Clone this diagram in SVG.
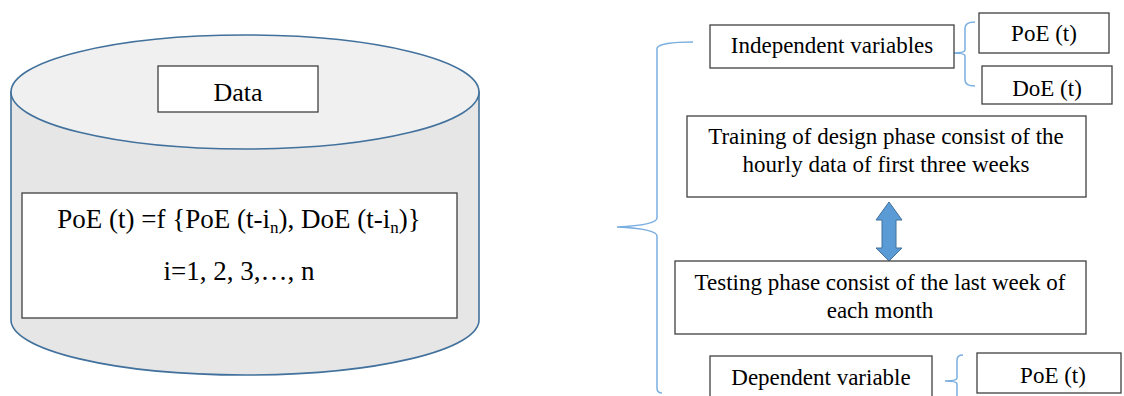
<svg xmlns="http://www.w3.org/2000/svg" width="1124" height="396" viewBox="0 0 1124 396">
<style>
  .t { font-family: "Liberation Serif", "Times New Roman", serif; fill: #000; text-anchor: middle; }
  .box { fill: #fff; stroke: #404040; stroke-width: 1.3; }
  .brace { fill: none; stroke: #7aaee0; stroke-width: 1.5; }
  .cyl { stroke: #41719c; stroke-width: 1.6; }
</style>
<rect width="1124" height="396" fill="#fff"/>
<g id="cylinder">
  <path class="cyl" d="M11,92 L11,320 A234,55 0 0 0 479,320 L479,92 Z" fill="#e6e6e6"/>
  <ellipse class="cyl" cx="245" cy="92" rx="234" ry="57" fill="#f0f0f0"/>
</g>
<g id="data">
  <rect class="box" x="158" y="66" width="160" height="46"/>
  <text class="t" x="238" y="101" font-size="26">Data</text>
</g>
<g id="formula">
  <rect class="box" x="22" y="193" width="435" height="125"/>
  <text class="t" x="239" y="228" font-size="27">PoE (t) =f {PoE (t-i<tspan font-size="17" dy="5">n</tspan><tspan dy="-5">), DoE (t-i</tspan><tspan font-size="17" dy="5">n</tspan><tspan dy="-5">)}</tspan></text>
  <text class="t" x="239" y="280" font-size="27">i=1, 2, 3,…, n</text>
</g>
<g id="connectors">
  <path class="brace" d="M693,42 Q660,42 657,48 L657,218 Q657,225 617,227 Q657,229 657,236 L657,388 Q657,393 662,393"/>
  <path class="brace" d="M975,22 Q965,22 965,28 L965,50 Q965,53 953,53 Q965,53 965,56 L965,80 Q965,86 975,86"/>
  <path class="brace" d="M963,355 Q957,355 957,360 L957,378 Q957,381 945,381 Q957,381 957,384 L957,396"/>
  <path d="M889,202 L902,220 L896,220 L896,248 L902,248 L889,261 L876,248 L882,248 L882,220 L876,220 Z" fill="#5b9bd5" stroke="#41719c" stroke-width="1"/>
</g>
<g id="independent">
  <rect class="box" x="710" y="25" width="244" height="43"/>
  <text class="t" x="832" y="53" font-size="23">Independent variables</text>
</g>
<g id="poe-top">
  <rect class="box" x="979" y="13" width="130" height="40"/>
  <text class="t" x="1044" y="41" font-size="23">PoE (t)</text>
</g>
<g id="doe">
  <rect class="box" x="982" y="66" width="130" height="38"/>
  <text class="t" x="1047" y="96" font-size="23">DoE (t)</text>
</g>
<g id="training">
  <rect class="box" x="687" y="116" width="399" height="81"/>
  <text class="t" x="886" y="144" font-size="23">Training of design phase consist of the</text>
  <text class="t" x="886" y="172" font-size="23">hourly data of first three weeks</text>
</g>
<g id="testing">
  <rect class="box" x="675" y="261" width="411" height="73"/>
  <text class="t" x="880" y="290" font-size="23">Testing phase consist of the last week of</text>
  <text class="t" x="880" y="318" font-size="23">each month</text>
</g>
<g id="dependent">
  <rect class="box" x="710" y="356" width="222" height="45"/>
  <text class="t" x="821" y="385" font-size="23">Dependent variable</text>
</g>
<g id="poe-bottom">
  <rect class="box" x="977" y="353" width="144" height="40"/>
  <text class="t" x="1053" y="383" font-size="23">PoE (t)</text>
</g>
</svg>
